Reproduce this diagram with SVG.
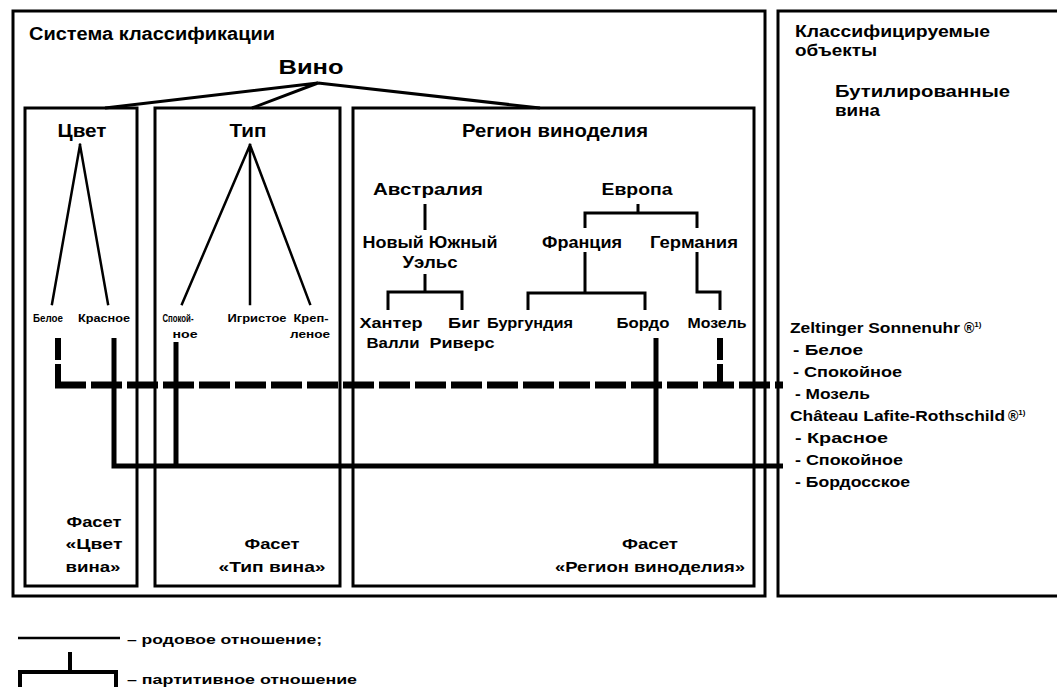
<svg xmlns="http://www.w3.org/2000/svg" width="1057" height="687" viewBox="0 0 1057 687">
<style>
  .frame{fill:none;stroke:#000;stroke-width:3}
  .ln{fill:none;stroke:#000;stroke-width:2.5;stroke-linecap:square}
  .tree{fill:none;stroke:#000;stroke-width:3}
  .solid{fill:none;stroke:#000;stroke-width:5}
  .dash{fill:none;stroke:#000;stroke-width:7;stroke-dasharray:31 5}
  .dv{fill:none;stroke:#000;stroke-width:6}
  text{font-family:"Liberation Sans",Arial,sans-serif;fill:#000;font-weight:bold}
  .t18{font-size:18px}
  .t17{font-size:17px}
  .t16{font-size:16px}
  .t14{font-size:14px}
  .t13{font-size:13px}
  .t10{font-size:10px}
  .m{text-anchor:middle}
</style>
<rect width="1057" height="687" fill="#fff"/>

<g id="classification-system">
  <rect class="frame" x="13" y="11" width="752" height="585"/>
  <text class="t18" x="29" y="40" textLength="246" lengthAdjust="spacingAndGlyphs">Система классификации</text>
</g>

<g id="classified-objects">
  <rect class="frame" x="778" y="11" width="300" height="585"/>
  <text class="t16" x="795" y="37" textLength="195" lengthAdjust="spacingAndGlyphs">Классифицируемые</text>
  <text class="t16" x="795" y="56" textLength="82" lengthAdjust="spacingAndGlyphs">объекты</text>
  <text class="t16" x="835" y="97" textLength="175" lengthAdjust="spacingAndGlyphs">Бутилированные</text>
  <text class="t16" x="835" y="116" textLength="45" lengthAdjust="spacingAndGlyphs">вина</text>
</g>

<g id="wine-zeltinger">
  <text class="t14" x="790" y="333"><tspan textLength="170" lengthAdjust="spacingAndGlyphs">Zeltinger Sonnenuhr</tspan><tspan dx="4">®</tspan><tspan dy="-6" font-size="8">1)</tspan></text>
  <text class="t14" x="793" y="355" textLength="70" lengthAdjust="spacingAndGlyphs">- Белое</text>
  <text class="t14" x="793" y="377" textLength="109" lengthAdjust="spacingAndGlyphs">- Спокойное</text>
  <text class="t14" x="795" y="399" textLength="75" lengthAdjust="spacingAndGlyphs">- Мозель</text>
</g>

<g id="wine-lafite">
  <text class="t14" x="790" y="421"><tspan textLength="215" lengthAdjust="spacingAndGlyphs">Château Lafite-Rothschild</tspan><tspan dx="3">®</tspan><tspan dy="-6" font-size="8">1)</tspan></text>
  <text class="t14" x="795" y="443" textLength="93" lengthAdjust="spacingAndGlyphs">- Красное</text>
  <text class="t14" x="795" y="465" textLength="108" lengthAdjust="spacingAndGlyphs">- Спокойное</text>
  <text class="t14" x="795" y="487" textLength="115" lengthAdjust="spacingAndGlyphs">- Бордосское</text>
</g>

<g id="wine">
  <text class="m" font-size="21" x="311" y="74" textLength="65" lengthAdjust="spacingAndGlyphs">Вино</text>
</g>

<g id="facet-color">
  <rect class="frame" x="25" y="108" width="112" height="478"/>
  <text class="t18 m" x="82" y="137" textLength="49" lengthAdjust="spacingAndGlyphs">Цвет</text>
  <text class="t14 m" x="94" y="527" textLength="55" lengthAdjust="spacingAndGlyphs">Фасет</text>
  <text class="t14 m" x="94" y="549" textLength="57" lengthAdjust="spacingAndGlyphs">«Цвет</text>
  <text class="t14 m" x="93" y="572" textLength="55" lengthAdjust="spacingAndGlyphs">вина»</text>
</g>
<g id="color-white"><text class="t10 m" x="48" y="322" textLength="30" lengthAdjust="spacingAndGlyphs">Белое</text></g>
<g id="color-red"><text class="t10 m" x="104" y="322" textLength="52" lengthAdjust="spacingAndGlyphs">Красное</text></g>

<g id="facet-type">
  <rect class="frame" x="155" y="108" width="185" height="478"/>
  <text class="t18 m" x="248" y="137" textLength="37" lengthAdjust="spacingAndGlyphs">Тип</text>
  <text class="t14 m" x="272" y="549" textLength="55" lengthAdjust="spacingAndGlyphs">Фасет</text>
  <text class="t14 m" x="272" y="572" textLength="107" lengthAdjust="spacingAndGlyphs">«Тип вина»</text>
</g>
<g id="type-still">
  <text class="t10 m" x="178" y="322" textLength="31" lengthAdjust="spacingAndGlyphs">Спокой-</text>
  <text class="t10 m" x="185" y="338" textLength="25" lengthAdjust="spacingAndGlyphs">ное</text>
</g>
<g id="type-sparkling"><text class="t10 m" x="257" y="322" textLength="59" lengthAdjust="spacingAndGlyphs">Игристое</text></g>
<g id="type-fortified">
  <text class="t10 m" x="311" y="322" textLength="35" lengthAdjust="spacingAndGlyphs">Креп-</text>
  <text class="t10 m" x="310" y="338" textLength="40" lengthAdjust="spacingAndGlyphs">леное</text>
</g>

<g id="facet-region">
  <rect class="frame" x="353" y="108" width="401" height="478"/>
  <text class="t18 m" x="555" y="137" textLength="186" lengthAdjust="spacingAndGlyphs">Регион виноделия</text>
  <text class="t14 m" x="650" y="549" textLength="56" lengthAdjust="spacingAndGlyphs">Фасет</text>
  <text class="t14 m" x="650" y="572" textLength="190" lengthAdjust="spacingAndGlyphs">«Регион виноделия»</text>
</g>
<g id="region-australia"><text class="t17 m" x="428" y="195" textLength="110" lengthAdjust="spacingAndGlyphs">Австралия</text></g>
<g id="region-europe"><text class="t17 m" x="637" y="195" textLength="71" lengthAdjust="spacingAndGlyphs">Европа</text></g>
<g id="region-nsw">
  <text class="t17 m" x="430" y="248" textLength="135" lengthAdjust="spacingAndGlyphs">Новый Южный</text>
  <text class="t17 m" x="430" y="268" textLength="55" lengthAdjust="spacingAndGlyphs">Уэльс</text>
</g>
<g id="region-france"><text class="t17 m" x="582" y="248" textLength="80" lengthAdjust="spacingAndGlyphs">Франция</text></g>
<g id="region-germany"><text class="t17 m" x="694" y="248" textLength="88" lengthAdjust="spacingAndGlyphs">Германия</text></g>
<g id="region-hunter">
  <text class="t14 m" x="391" y="328" textLength="63" lengthAdjust="spacingAndGlyphs">Хантер</text>
  <text class="t14 m" x="393" y="348" textLength="53" lengthAdjust="spacingAndGlyphs">Валли</text>
</g>
<g id="region-bigrivers">
  <text class="t14 m" x="464" y="328" textLength="32" lengthAdjust="spacingAndGlyphs">Биг</text>
  <text class="t14 m" x="462" y="348" textLength="65" lengthAdjust="spacingAndGlyphs">Риверс</text>
</g>
<g id="region-burgundy"><text class="t14 m" x="530" y="328" textLength="86" lengthAdjust="spacingAndGlyphs">Бургундия</text></g>
<g id="region-bordeaux"><text class="t14 m" x="643" y="328" textLength="53" lengthAdjust="spacingAndGlyphs">Бордо</text></g>
<g id="region-mosel"><text class="t14 m" x="717" y="328" textLength="59" lengthAdjust="spacingAndGlyphs">Мозель</text></g>

<g id="connectors">
  <path class="tree" d="M318 83 L105 108 M318 83 L252 108 M318 83 L540 108"/>
  <path class="ln" d="M80 145 L52 304 M80 145 L108 304"/>
  <path class="ln" d="M250 145 L182 304 M250 145 L250 304 M250 145 L310 304"/>
  <path class="tree" d="M425 204 V230"/>
  <path class="tree" d="M425 274 V292 M388 310 V292 H462 V310"/>
  <path class="tree" d="M638 204 V213 M585 228 V213 H697 V228"/>
  <path class="tree" d="M585 252 V293 M528 310 V293 H645 V310"/>
  <path class="tree" d="M697 252 V292 H720 V310"/>
  <path class="dash" d="M55 385 H783"/>
  <path class="dv" d="M58 338 V360 M58 364 V388"/>
  <path class="dv" d="M720 338 V360 M720 364 V388"/>
  <path class="solid" d="M114 338 V466 H783"/>
  <path class="solid" d="M176 342 V466"/>
  <path class="solid" d="M656 338 V466"/>
</g>

<g id="legend">
  <path fill="none" stroke="#000" stroke-width="2.5" d="M18 638 H120"/>
  <text class="t13" x="127" y="644" textLength="195" lengthAdjust="spacingAndGlyphs">– родовое отношение;</text>
  <path fill="none" stroke="#000" stroke-width="4" d="M70 652 V672 M20 692 V672 H116 V692"/>
  <text class="t13" x="127" y="684" textLength="230" lengthAdjust="spacingAndGlyphs">– партитивное отношение</text>
</g>
</svg>
